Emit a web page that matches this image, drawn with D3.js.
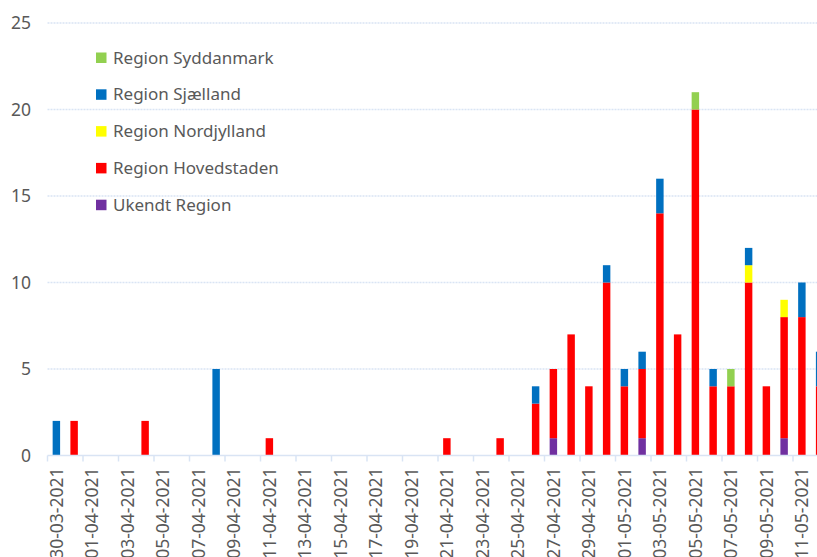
<!DOCTYPE html>
<html>
<head>
<meta charset="utf-8">
<script src="https://cdn.jsdelivr.net/npm/d3@7"></script>
<style>
  body { margin: 0; background: #fff; overflow: hidden; }
  svg { display: block; font-family: "Noto Sans", sans-serif; }
</style>
</head>
<body>
<svg id="chart" width="817" height="557"></svg>
<script>
// datoer (kategorier)
var dates = ["30-03-2021","31-03-2021","01-04-2021","02-04-2021","03-04-2021","04-04-2021",
  "05-04-2021","06-04-2021","07-04-2021","08-04-2021","09-04-2021","10-04-2021","11-04-2021",
  "12-04-2021","13-04-2021","14-04-2021","15-04-2021","16-04-2021","17-04-2021","18-04-2021",
  "19-04-2021","20-04-2021","21-04-2021","22-04-2021","23-04-2021","24-04-2021","25-04-2021",
  "26-04-2021","27-04-2021","28-04-2021","29-04-2021","30-04-2021","01-05-2021","02-05-2021",
  "03-05-2021","04-05-2021","05-05-2021","06-05-2021","07-05-2021","08-05-2021","09-05-2021",
  "10-05-2021","11-05-2021","12-05-2021"];

var ukendt      = [0,0,0,0,0,0,0,0,0,0,0,0,0,0,0,0,0,0,0,0,0,0,0,0,0,0,0,0,1,0,0,0,0,1,0,0,0,0,0,0,0,1,0,0];
var hovedstaden = [0,2,0,0,0,2,0,0,0,0,0,0,1,0,0,0,0,0,0,0,0,0,1,0,0,1,0,3,4,7,4,10,4,4,14,7,20,4,4,10,4,7,8,4];
var nordjylland = [0,0,0,0,0,0,0,0,0,0,0,0,0,0,0,0,0,0,0,0,0,0,0,0,0,0,0,0,0,0,0,0,0,0,0,0,0,0,0,1,0,1,0,0];
var sjaelland   = [2,0,0,0,0,0,0,0,0,5,0,0,0,0,0,0,0,0,0,0,0,0,0,0,0,0,0,1,0,0,0,1,1,1,2,0,0,1,0,1,0,0,2,2];
var syddanmark  = [0,0,0,0,0,0,0,0,0,0,0,0,0,0,0,0,0,0,0,0,0,0,0,0,0,0,0,0,0,0,0,0,0,0,0,0,1,0,1,0,0,0,0,0];

var yTicks = [0, 5, 10, 15, 20, 25];

// serier nedefra og op
var series = [
  {key: "Ukendt Region",      values: ukendt,      color: "#7030A0"},
  {key: "Region Hovedstaden", values: hovedstaden, color: "#FF0000"},
  {key: "Region Nordjylland", values: nordjylland, color: "#FFFF00"},
  {key: "Region Sjælland",    values: sjaelland,   color: "#0070C0"},
  {key: "Region Syddanmark",  values: syddanmark,  color: "#92D050"}
];

var svg = d3.select("#chart");
var textColor = "#595959";
var gridColor = "#D9E4F4";

var x0 = 47.5, step = 17.75;
var x = d3.scaleBand()
  .domain(dates)
  .range([x0, x0 + step * dates.length])
  .paddingInner(0.58)
  .paddingOuter(0.29);

var y = d3.scaleLinear().domain([0, 25]).range([455.5, 23]);

// tabel til stack
var table = dates.map(function(d, i) {
  var row = {date: d};
  series.forEach(function(s) { row[s.key] = s.values[i]; });
  return row;
});
var stacked = d3.stack().keys(series.map(function(s) { return s.key; }))(table);

//Gitterlinjer
svg.append("g")
  .selectAll("line")
  .data(yTicks.filter(function(t) { return t > 0; }))
  .join("line")
  .attr("x1", x0)
  .attr("x2", 900)
  .attr("y1", function(d) { return y(d); })
  .attr("y2", function(d) { return y(d); })
  .attr("stroke", gridColor)
  .attr("stroke-width", 1.5)
  .attr("stroke-dasharray", "2,1");

// y etiketter
svg.append("g")
  .selectAll("text")
  .data(yTicks)
  .join("text")
  .attr("x", 31)
  .attr("y", function(d) { return y(d); })
  .attr("dy", "0.36em")
  .attr("text-anchor", "end")
  .attr("fill", textColor)
  .style("font-size", "17.5px")
  .text(function(d) { return d; });

//Søjler
svg.append("g")
  .selectAll("g")
  .data(stacked)
  .join("g")
  .attr("fill", function(d, i) { return series[i].color; })
  .selectAll("rect")
  .data(function(d) { return d; })
  .join("rect")
  .filter(function(d) { return d[1] > d[0]; })
  .attr("x", function(d) { return x(d.data.date); })
  .attr("width", x.bandwidth())
  .attr("y", function(d) { return y(d[1]); })
  .attr("height", function(d) { return y(d[0]) - y(d[1]); });

// x akse
var axis = svg.append("g");
axis.append("line")
  .attr("x1", x0).attr("x2", 900)
  .attr("y1", y(0)).attr("y2", y(0))
  .attr("stroke", gridColor)
  .attr("stroke-width", 1.5);

var tickDates = dates.filter(function(d, i) { return i % 2 == 0; });
axis.selectAll(".tick")
  .data(tickDates)
  .join("line")
  .attr("class", "tick")
  .attr("x1", function(d) { return x(d) - x.step() * x.paddingOuter(); })
  .attr("x2", function(d) { return x(d) - x.step() * x.paddingOuter(); })
  .attr("y1", y(0))
  .attr("y2", y(0) + 6)
  .attr("stroke", gridColor)
  .attr("stroke-width", 1.5);

axis.selectAll(".lbl")
  .data(tickDates)
  .join("text")
  .attr("class", "lbl")
  .attr("transform", function(d) {
    return "translate(" + (x(d) + x.bandwidth() / 2) + "," + 467.5 + ") rotate(-90)";
  })
  .attr("dy", "0.36em")
  .attr("text-anchor", "end")
  .attr("fill", textColor)
  .style("font-size", "17.5px")
  .text(function(d) { return d; });

//Legende (omvendt rækkefølge)
var legend = svg.append("g")
  .selectAll("g")
  .data(series.slice().reverse())
  .join("g")
  .attr("transform", function(d, i) { return "translate(96," + (57.5 + i * 36.8) + ")"; });

legend.append("rect")
  .attr("x", 0).attr("y", -5)
  .attr("width", 10.5).attr("height", 10.5)
  .attr("fill", function(d) { return d.color; });

legend.append("text")
  .attr("x", 17)
  .attr("dy", "0.36em")
  .attr("fill", textColor)
  .style("font-size", "17px")
  .text(function(d) { return d.key; });
</script>
</body>
</html>
